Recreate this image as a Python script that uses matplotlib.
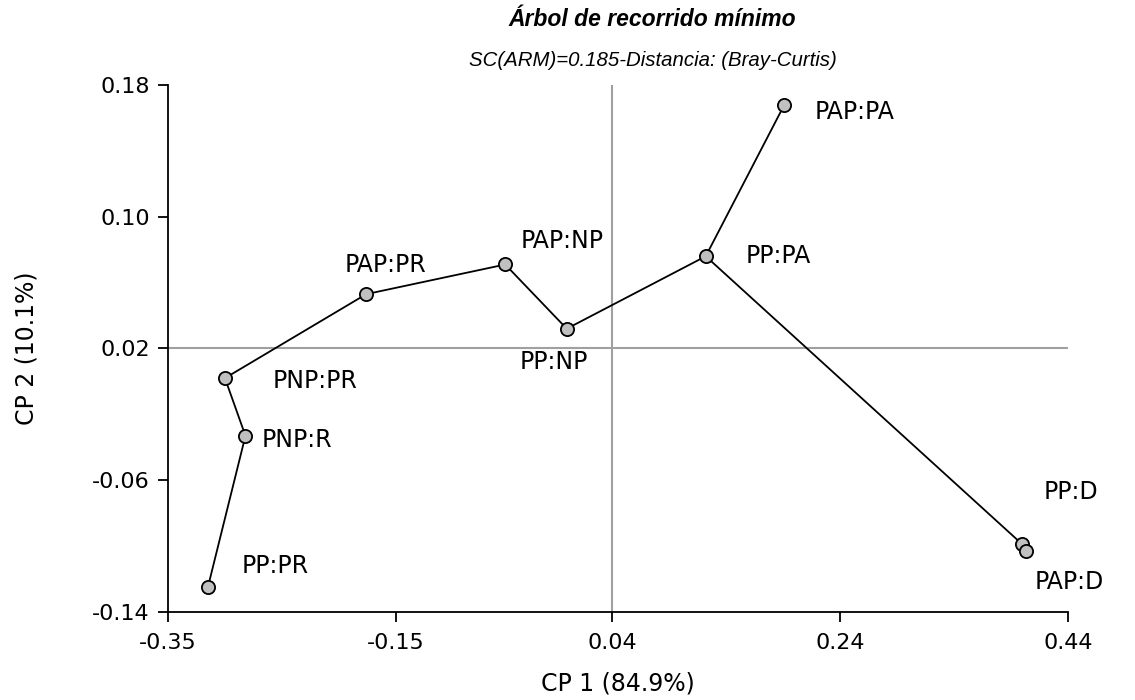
import matplotlib.pyplot as plt

plt.rcParams['font.family'] = ['DejaVu Sans']

# site coordinates on the first two principal components
names = ['PAP:PA', 'PP:PA', 'PAP:NP', 'PP:NP', 'PAP:PR',
         'PNP:PR', 'PNP:R', 'PP:PR', 'PP:D', 'PAP:D']
cp1 = [0.191, 0.122, -0.054, 0.000, -0.176, -0.300, -0.282, -0.315, 0.400, 0.403]
cp2 = [0.168, 0.076, 0.071, 0.032, 0.053, 0.002, -0.033, -0.125, -0.099, -0.103]

# minimum spanning tree edges
edges = [('PP:PR', 'PNP:R'), ('PNP:R', 'PNP:PR'), ('PNP:PR', 'PAP:PR'),
         ('PAP:PR', 'PAP:NP'), ('PAP:NP', 'PP:NP'), ('PP:NP', 'PP:PA'),
         ('PP:PA', 'PAP:PA'), ('PP:PA', 'PP:D'), ('PP:D', 'PAP:D')]

xticks = [-0.35, -0.15, 0.04, 0.24, 0.44]
yticks = [-0.14, -0.06, 0.02, 0.10, 0.18]

# label offsets in points and horizontal alignment
offsets = {
    'PAP:PA': (22, -5, 'left'),
    'PP:PA': (29, 0, 'left'),
    'PAP:NP': (11, 17, 'left'),
    'PP:NP': (-9, -24, 'center'),
    'PAP:PR': (14, 21, 'center'),
    'PNP:PR': (34, -2, 'left'),
    'PNP:R': (12, -3, 'left'),
    'PP:PR': (24, 15, 'left'),
    'PP:D': (15, 38, 'left'),
    'PAP:D': (6, -22, 'left'),
}

fig = plt.figure(figsize=(11.35, 7), dpi=100)
ax = fig.add_axes([0.148, 0.1257, 0.793, 0.7529])

ax.axvline(0.04, color='#a0a0a0', lw=1.5, zorder=1)
ax.axhline(0.02, color='#a0a0a0', lw=1.5, zorder=1)

idx = {n: i for i, n in enumerate(names)}
for a, b in edges:
    ax.plot([cp1[idx[a]], cp1[idx[b]]], [cp2[idx[a]], cp2[idx[b]]],
            color='black', lw=1.3, zorder=2)

ax.plot(cp1, cp2, 'o', ms=9.5, mfc='#c0c0c0', mec='black', mew=1.3,
        ls='none', zorder=3)

for n, x, y in zip(names, cp1, cp2):
    dx, dy, ha = offsets[n]
    ax.annotate(n, (x, y), xytext=(dx, dy), textcoords='offset points',
                ha=ha, va='center', fontsize=17)

ax.set_xlim(-0.35, 0.44)
ax.set_ylim(-0.14, 0.18)
ax.set_xticks(xticks)
ax.set_yticks(yticks)
ax.set_xticklabels([f'{v:.2f}' for v in xticks])
ax.set_yticklabels([f'{v:.2f}' for v in yticks])
ax.tick_params(labelsize=16, length=7, width=1.3, direction='out')
ax.tick_params(axis='x', pad=8)
ax.tick_params(axis='y', pad=6)
for s in ['top', 'right']:
    ax.spines[s].set_visible(False)
for s in ['left', 'bottom']:
    ax.spines[s].set_linewidth(1.3)

ax.set_xlabel('CP 1 (84.9%)', fontsize=17, va='center')
ax.xaxis.set_label_coords(0.5, -0.135)
ax.set_ylabel('CP 2 (10.1%)', fontsize=17, va='center', rotation_mode='anchor')
ax.yaxis.set_label_coords(-0.157, 0.5)

fig.text(0.575, 0.972, 'Árbol de recorrido mínimo', ha='center', va='center',
         fontsize=16.5, fontweight='bold', fontstyle='italic',
         family='Liberation Sans')
fig.text(0.575, 0.914, 'SC(ARM)=0.185-Distancia: (Bray-Curtis)', ha='center',
         va='center', fontsize=14.7, fontstyle='italic',
         family='Liberation Sans')

fig.savefig('out.png', dpi=100)
